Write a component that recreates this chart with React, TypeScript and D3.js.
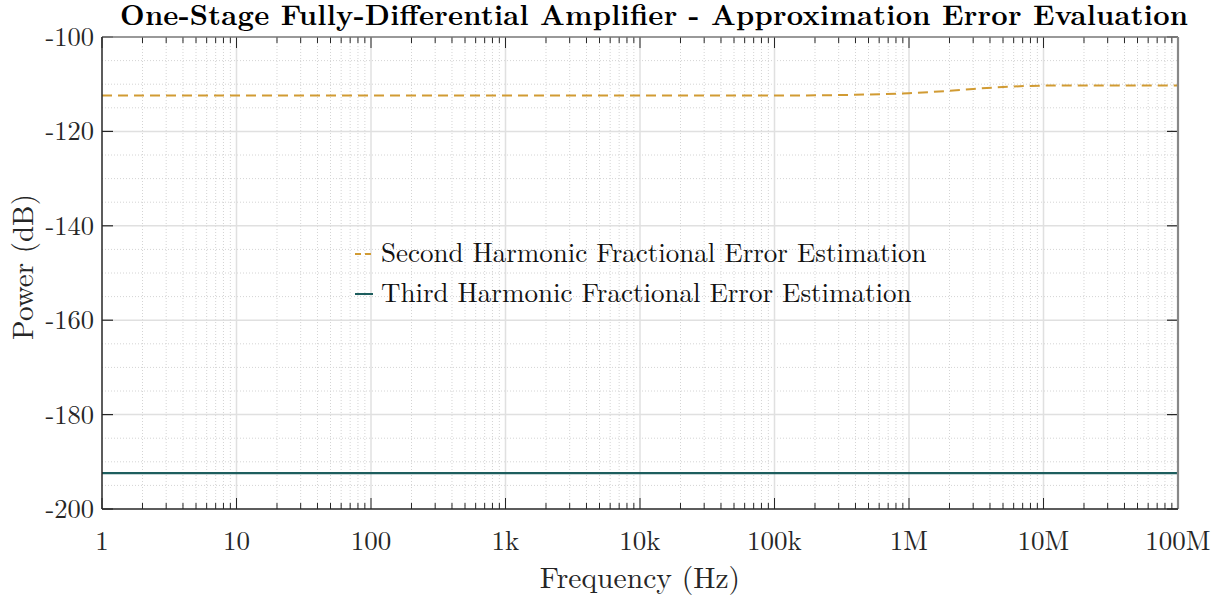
import React, { useEffect, useRef } from "react";
import * as d3 from "d3";

// frequency points (Hz) and the two error estimates (dB)
const freqs = [1, 10, 100, 1e3, 1e4, 1e5, 3e5, 1e6, 2e6, 3e6, 5e6, 1e7, 3e7, 1e8];
const secondHarmonic = [-112.4, -112.4, -112.4, -112.4, -112.4, -112.4, -112.3, -111.9, -111.4, -111.0, -110.6, -110.3, -110.25, -110.25];
const thirdHarmonic = [-192.4, -192.4, -192.4, -192.4, -192.4, -192.4, -192.4, -192.4, -192.4, -192.4, -192.4, -192.4, -192.4, -192.4];

const xTicks = [1, 10, 100, 1e3, 1e4, 1e5, 1e6, 1e7, 1e8];
const xTickLabels = ["1", "10", "100", "1k", "10k", "100k", "1M", "10M", "100M"];
const yTicks = [-200, -180, -160, -140, -120, -100];

const seriesNames = [
  "Second Harmonic Fractional Error Estimation",
  "Third Harmonic Fractional Error Estimation",
];

function App() {
  const ref = useRef<SVGSVGElement>(null);

  useEffect(() => {
    document.body.style.margin = "0";
    const svg = d3.select(ref.current);
    svg.selectAll("*").remove();

    const font = "'Latin Modern Roman', 'CMU Serif', 'Liberation Serif', serif";
    const margin = { top: 37, right: 46, bottom: 90, left: 102 };
    const width = 1224 - margin.left - margin.right;
    const height = 599 - margin.top - margin.bottom;

    const x = d3.scaleLog().domain([1, 1e8]).range([0, width]);
    const y = d3.scaleLinear().domain([-200, -100]).range([height, 0]);

    const g = svg.append("g").attr("transform", `translate(${margin.left},${margin.top})`);

    // minor grid
    const minorX: number[] = [];
    for (let e = 0; e < 8; e++) for (let k = 2; k < 10; k++) minorX.push(k * Math.pow(10, e));
    const minorY = d3.range(-195, -100, 5).filter((v) => v % 20 !== 0);

    g.selectAll(".mgx")
      .data(minorX)
      .enter()
      .append("line")
      .attr("x1", (d) => x(d))
      .attr("x2", (d) => x(d))
      .attr("y1", 0)
      .attr("y2", height)
      .attr("stroke", "#d4d4d4")
      .attr("stroke-dasharray", "1,2");
    g.selectAll(".mgy")
      .data(minorY)
      .enter()
      .append("line")
      .attr("x1", 0)
      .attr("x2", width)
      .attr("y1", (d) => y(d))
      .attr("y2", (d) => y(d))
      .attr("stroke", "#d4d4d4")
      .attr("stroke-dasharray", "1,2");

    // major grid
    g.selectAll(".gx")
      .data(xTicks.slice(1, -1))
      .enter()
      .append("line")
      .attr("x1", (d) => x(d))
      .attr("x2", (d) => x(d))
      .attr("y1", 0)
      .attr("y2", height)
      .attr("stroke", "#e0e0e0")
      .attr("stroke-width", 1.5);
    g.selectAll(".gy")
      .data(yTicks.slice(1, -1))
      .enter()
      .append("line")
      .attr("x1", 0)
      .attr("x2", width)
      .attr("y1", (d) => y(d))
      .attr("y2", (d) => y(d))
      .attr("stroke", "#e0e0e0")
      .attr("stroke-width", 1.5);

    // lines
    const line = (vals: number[]) =>
      d3
        .line<number>()
        .x((_, i) => x(freqs[i]))
        .y((d) => y(d))
        .curve(d3.curveMonotoneX)(vals);

    g.append("path")
      .attr("d", line(secondHarmonic))
      .attr("fill", "none")
      .attr("stroke", "#d19b33")
      .attr("stroke-width", 2)
      .attr("stroke-dasharray", "10,6");
    g.append("path")
      .attr("d", line(thirdHarmonic))
      .attr("fill", "none")
      .attr("stroke", "#1d5e5e")
      .attr("stroke-width", 2.2);

    // ticks
    const tickCol = "#262626";
    const allX = xTicks.map((v) => ({ v, major: true })).concat(minorX.map((v) => ({ v, major: false })));
    [0, height].forEach((yy) => {
      g.selectAll(null)
        .data(allX)
        .enter()
        .append("line")
        .attr("x1", (d) => x(d.v))
        .attr("x2", (d) => x(d.v))
        .attr("y1", yy)
        .attr("y2", (d) => (yy === 0 ? 1 : -1) * (d.major ? 11 : 6) + yy)
        .attr("stroke", tickCol)
        .attr("stroke-width", 1);
    });
    [0, width].forEach((xx) => {
      g.selectAll(null)
        .data(yTicks)
        .enter()
        .append("line")
        .attr("x1", xx)
        .attr("x2", xx + (xx === 0 ? 11 : -11))
        .attr("y1", (d) => y(d))
        .attr("y2", (d) => y(d))
        .attr("stroke", tickCol)
        .attr("stroke-width", 1.2);
    });

    // box
    g.append("line").attr("x1", 0).attr("x2", width).attr("y1", 0).attr("y2", 0).attr("stroke", "#777").attr("stroke-width", 1.3);
    g.append("line").attr("x1", width).attr("x2", width).attr("y1", 0).attr("y2", height).attr("stroke", "#888").attr("stroke-width", 2.2);
    g.append("line").attr("x1", 0).attr("x2", width).attr("y1", height).attr("y2", height).attr("stroke", tickCol).attr("stroke-width", 1.5);
    g.append("line").attr("x1", 0).attr("x2", 0).attr("y1", 0).attr("y2", height).attr("stroke", tickCol).attr("stroke-width", 1.5);

    // tick labels
    g.selectAll(".xl")
      .data(xTicks)
      .enter()
      .append("text")
      .attr("x", (d) => x(d))
      .attr("y", height + 41)
      .attr("text-anchor", "middle")
      .attr("font-family", font)
      .attr("font-size", 27)
      .attr("fill", tickCol)
      .text((_, i) => xTickLabels[i]);
    g.selectAll(".yl")
      .data(yTicks)
      .enter()
      .append("text")
      .attr("x", -8)
      .attr("y", (d) => y(d) + 9)
      .attr("text-anchor", "end")
      .attr("font-family", font)
      .attr("font-size", 26.5)
      .attr("fill", tickCol)
      .text((d) => String(d));

    // axis labels
    g.append("text")
      .attr("x", width / 2)
      .attr("y", height + 79)
      .attr("text-anchor", "middle")
      .attr("font-family", font)
      .attr("font-size", 29.6)
      .attr("fill", tickCol)
      .text("Frequency (Hz)");
    g.append("text")
      .attr("transform", "rotate(-90)")
      .attr("x", -230)
      .attr("y", -69)
      .attr("text-anchor", "middle")
      .attr("font-family", font)
      .attr("font-size", 29)
      .attr("fill", tickCol)
      .text("Power (dB)");

    // title
    svg
      .append("text")
      .attr("x", 654)
      .attr("y", 25)
      .attr("text-anchor", "middle")
      .attr("font-family", font)
      .attr("font-weight", "bold")
      .attr("font-size", 28.5)
      .attr("textLength", 1068)
      .attr("lengthAdjust", "spacing")
      .attr("fill", "#000")
      .text("One-Stage Fully-Differential Amplifier - Approximation Error Evaluation");

    // legend
    const leg = svg.append("g").attr("transform", "translate(355,254)");
    const legStyles = [
      { color: "#d19b33", dash: "6,4" },
      { color: "#1d5e5e", dash: null as string | null },
    ];
    seriesNames.forEach((name, i) => {
      const row = leg.append("g").attr("transform", `translate(0,${i * 40})`);
      row
        .append("line")
        .attr("x1", 0)
        .attr("x2", 18)
        .attr("y1", 0)
        .attr("y2", 0)
        .attr("stroke", legStyles[i].color)
        .attr("stroke-width", 2)
        .attr("stroke-dasharray", legStyles[i].dash);
      row
        .append("text")
        .attr("x", 26)
        .attr("y", 8)
        .attr("font-family", font)
        .attr("font-size", 27)
        .attr("fill", "#111")
        .text(name);
    });
  }, []);

  return <svg ref={ref} width={1224} height={599} style={{ display: "block" }} />;
}

export default App;
